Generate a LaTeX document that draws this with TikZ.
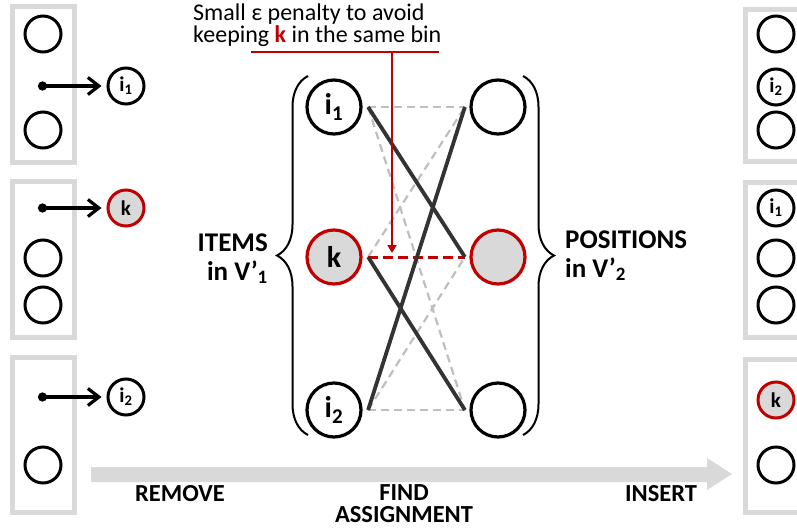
\documentclass[tikz,border=0pt]{standalone}
\usepackage{fontspec}
\setmainfont{Carlito}
\usetikzlibrary{arrows.meta,decorations.pathreplacing,calc}
\definecolor{myred}{HTML}{C00000}
\definecolor{lgray}{HTML}{D9D9D9}
\definecolor{dgray}{HTML}{BFBFBF}
\definecolor{dark}{HTML}{333333}
\begin{document}
\begin{tikzpicture}[x=1pt,y=-1pt,
  bin/.style={draw=lgray, line width=5pt},
  slot/.style={circle, draw=black, line width=3pt, minimum size=36pt, inner sep=0pt, fill=white, font=\fontsize{21}{21}\selectfont\bfseries},
  kslot/.style={slot, draw=myred, fill=lgray},
  big/.style={circle, draw=black, line width=3.2pt, minimum size=54pt, inner sep=0pt, fill=white, font=\fontsize{30}{30}\selectfont\bfseries},
  kbig/.style={big, draw=myred, fill=lgray},
  move/.style={line width=3.2pt, {Circle[length=9pt]}-{Straight Barb[length=11pt,width=17pt]}, shorten >=5pt},
  solidedge/.style={draw=dark, line width=3.8pt},
  dashedge/.style={draw=dgray, line width=2.2pt, dash pattern=on 8pt off 5pt},
  redge/.style={draw=myred, line width=3pt, dash pattern=on 10pt off 5pt},
  bracestyle/.style={decorate, decoration={brace, amplitude=31pt}, line width=2pt},
  label/.style={font=\fontsize{27}{29}\selectfont\bfseries},
  steplabel/.style={font=\fontsize{24.5}{21.5}\selectfont\bfseries, align=center, anchor=base}
]
\useasboundingbox (0,0) rectangle (797,527);

% ---------- left bins ----------
\draw[bin] (12.5,6.7) rectangle (74.5,162);
\draw[bin] (12.5,181.5) rectangle (74.5,337);
\draw[bin] (12.5,357) rectangle (74.5,512);
\node[slot] (la1) at (43,34) {};
\node[slot] (la2) at (43,130) {};
\node[slot] (lb1) at (43,258) {};
\node[slot] (lb2) at (43,305) {};
\node[slot] (lc1) at (43,465) {};
\node[slot] (mi1) at (126,86) {i\textsubscript{1}};
\node[kslot] (mk) at (126,208) {k};
\node[slot] (mi2) at (126,397) {i\textsubscript{2}};
\coordinate (s1) at (38,86);
\coordinate (s2) at (38,208);
\coordinate (s3) at (38,397);
\draw[move] (s1) -- (mi1.west);
\draw[move] (s2) -- (mk.west);
\draw[move] (s3) -- (mi2.west);

% ---------- right bins ----------
\draw[bin] (745.3,9.5) rectangle (808,161);
\draw[bin] (745.3,182.5) rectangle (808,337.5);
\draw[bin] (745.3,359.5) rectangle (808,512.5);
\node[slot] (ra1) at (776,34) {};
\node[slot] (ri2) at (776,87) {i\textsubscript{2}};
\node[slot] (ra3) at (776,130) {};
\node[slot] (ri1) at (776,208) {i\textsubscript{1}};
\node[slot] (rb2) at (776,258) {};
\node[slot] (rb3) at (776,305) {};
\node[kslot] (rk) at (776,400) {k};
\node[slot] (rc2) at (776,465) {};

% ---------- bipartite graph ----------
\node[big] (L1) at (334,107) {i\textsubscript{1}};
\node[kbig] (Lk) at (334,257) {k};
\node[big] (L2) at (334,410) {i\textsubscript{2}};
\node[big] (R1) at (498,107) {};
\node[kbig] (Rk) at (498,257) {};
\node[big] (R2) at (498,410) {};
\coordinate (a1) at ($(L1.east)+(5.5,0)$);
\coordinate (ak) at ($(Lk.east)+(5.5,0)$);
\coordinate (a2) at ($(L2.east)+(5.5,0)$);
\coordinate (b1) at ($(R1.west)+(-4.5,0)$);
\coordinate (bk) at ($(Rk.west)+(-4.5,0)$);
\coordinate (b2) at ($(R2.west)+(-4.5,0)$);
\draw[dashedge] (a1) -- (b1);
\draw[dashedge] (a1) -- (b2);
\draw[dashedge] (ak) -- (b1);
\draw[dashedge] (a2) -- (bk);
\draw[dashedge] (a2) -- (b2);
\draw[redge] (ak) -- (bk);
\draw[solidedge] (a1) -- (bk);
\draw[solidedge] (ak) -- (b2);
\draw[solidedge] (a2) -- (b1);

% braces
\draw[bracestyle] (308,435) -- (308,76);
\draw[bracestyle] (523,76) -- (523,435);
\node[label, align=right, anchor=base east, inner sep=0pt] (items) at (268,280) {ITEMS\\in V’\textsubscript{1}};
\node[label, align=left, anchor=base west, inner sep=0pt] (pos) at (565,277) {POSITIONS\\in V’\textsubscript{2}};

% ---------- penalty note ----------
\node[anchor=base west, align=left, font=\fontsize{24}{21.5}\selectfont, inner sep=0pt] (note) at (193,42) {Small ε penalty to avoid\\keeping \textcolor{myred}{\textbf{k}} in the same bin};
\coordinate (u1) at (251,52);
\coordinate (u2) at (439,52);
\coordinate (u3) at (392,52);
\coordinate (u4) at (392,253);
\draw[myred, line width=2.2pt] (u1) -- (u2);
\draw[myred, line width=2pt, -{Triangle[length=8pt,width=9pt]}] (u3) -- (u4);

% ---------- bottom process arrow ----------
\fill[lgray] (91,467) -- (707,467) -- (707,458) -- (732,474) -- (707,490) -- (707,482) -- (91,482) -- cycle;
\node[steplabel] (remove) at (180,501) {REMOVE};
\node[steplabel] (find) at (404,522) {FIND\\ASSIGNMENT};
\node[steplabel] (insert) at (661,501) {INSERT};
\end{tikzpicture}
\end{document}
